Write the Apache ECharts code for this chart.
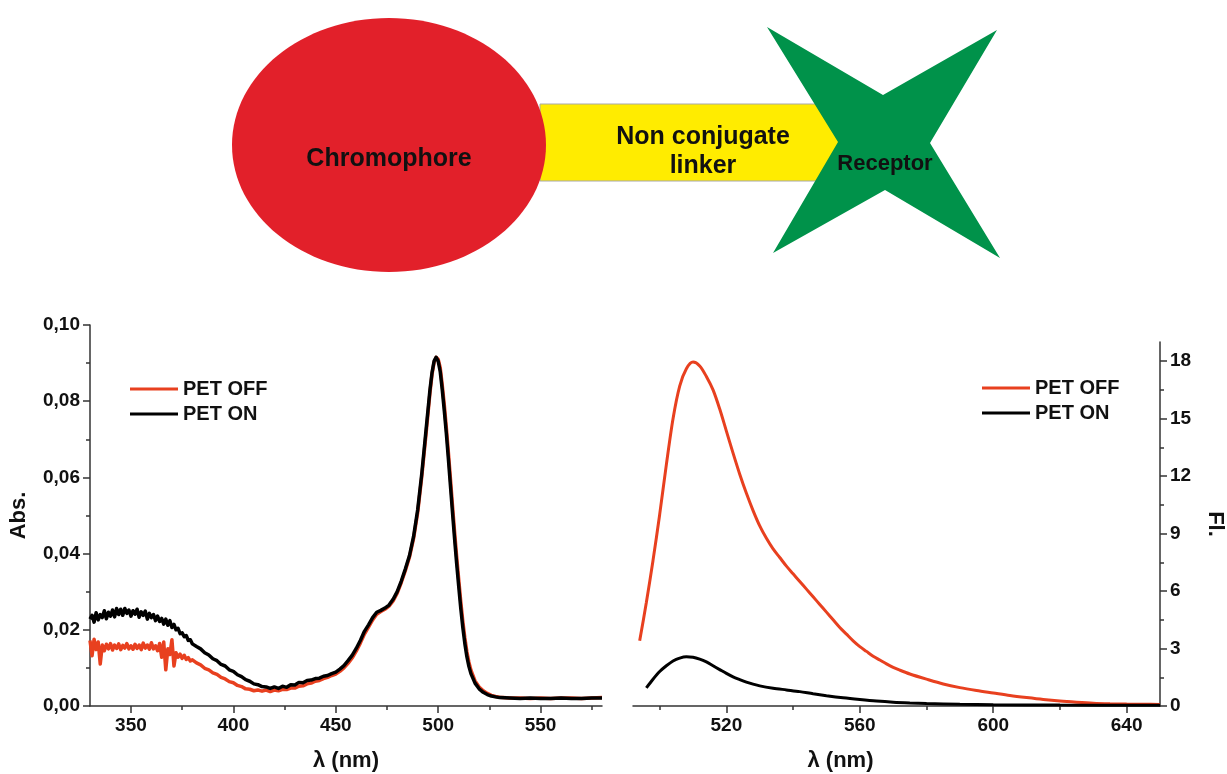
<!DOCTYPE html>
<html>
<head>
<meta charset="utf-8">
<script src="https://cdn.jsdelivr.net/npm/echarts@6/dist/echarts.min.js"></script>
<style>
  html, body { margin: 0; padding: 0; background: #ffffff; }
  #chart { width: 1227px; height: 774px; }
</style>
</head>
<body>
<div id="chart"></div>
<script>
// ---------- Data ----------
const seriesNames = ['PET OFF', 'PET ON'];

// Absorption spectra [wavelength nm, absorbance]
const absPetOff = [[330,.0172],[331,.0132],[332,.0175],[333,.0148],[334,.0168],[335,.0110],[336,.0160],[337,.0145],[338,.0162],[339,.0150],[340,.0164],[341,.0147],[342,.0160],[343,.0151],[344,.0163],[345,.0148],[346,.0159],[347,.0152],[348,.0164],[349,.0150],[350,.0158],[351,.0149],[352,.0162],[353,.0151],[354,.0160],[355,.0148],[356,.0165],[357,.0152],[358,.0160],[359,.0149],[360,.0166],[361,.0150],[362,.0158],[363,.0145],[364,.0164],[365,.0128],[366,.0168],[367,.0095],[368,.0150],[369,.0135],[370,.0174],[371,.0105],[372,.0140],[373,.0128],[374,.0136],[375,.0125],[376,.0133],[377,.0122],[378,.0127],[379,.0118],[380,.0121],[382,.0113],[384,.0108],[386,.0099],[388,.0095],[390,.0087],[392,.0083],[394,.0075],[396,.0071],[398,.0064],[400,.0061],[402,.0054],[404,.0051],[406,.0045],[408,.0044],[410,.0040],[412,.0042],[414,.0039],[416,.0042],[418,.0038],[420,.0042],[422,.0040],[424,.0044],[426,.0043],[428,.0047],[430,.0047],[432,.0052],[434,.0053],[436,.0058],[438,.0060],[440,.0065],[442,.0067],[444,.0072],[446,.0075],[448,.0080],[450,.0084],[452,.0091],[454,.0100],[456,.0112],[458,.0126],[460,.0144],[462,.0165],[464,.0189],[466,.0207],[468,.0226],[470,.0241],[472,.0248],[474,.0254],[476,.0262],[478,.0276],[480,.0296],[482,.0324],[484,.0356],[486,.0391],[488,.0440],[490,.0508],[492,.0602],[494,.0710],[496,.0822],[497,.0870],[498,.0902],[499,.0915],[500,.0910],[501,.0888],[502,.0842],[503,.0790],[504,.0730],[505,.0665],[506,.0596],[507,.0526],[508,.0458],[509,.0394],[510,.0334],[511,.0276],[512,.0224],[513,.0180],[514,.0143],[515,.0115],[516,.0094],[518,.0066],[520,.0050],[522,.0040],[524,.0033],[526,.0028],[528,.0025],[530,.0023],[535,.0021],[540,.0021],[545,.0020],[550,.0021],[555,.0020],[560,.0021],[565,.0021],[570,.0020],[575,.0021],[580,.0022]];

const absPetOn = [[330,.0228],[331,.0238],[332,.0220],[333,.0245],[334,.0226],[335,.0240],[336,.0232],[337,.0250],[338,.0229],[339,.0246],[340,.0236],[341,.0252],[342,.0234],[343,.0256],[344,.0240],[345,.0254],[346,.0238],[347,.0256],[348,.0243],[349,.0252],[350,.0236],[351,.0250],[352,.0241],[353,.0254],[354,.0233],[355,.0247],[356,.0238],[357,.0249],[358,.0228],[359,.0243],[360,.0232],[361,.0240],[362,.0224],[363,.0236],[364,.0222],[365,.0230],[366,.0215],[367,.0228],[368,.0212],[369,.0224],[370,.0206],[371,.0214],[372,.0200],[373,.0204],[374,.0190],[375,.0192],[376,.0182],[377,.0185],[378,.0172],[379,.0174],[380,.0163],[382,.0156],[384,.0150],[386,.0140],[388,.0134],[390,.0124],[392,.0119],[394,.0109],[396,.0105],[398,.0095],[400,.0091],[402,.0082],[404,.0077],[406,.0069],[408,.0065],[410,.0058],[412,.0056],[414,.0051],[416,.0050],[418,.0046],[420,.0050],[422,.0046],[424,.0052],[426,.0049],[428,.0056],[430,.0055],[432,.0062],[434,.0061],[436,.0067],[438,.0068],[440,.0072],[442,.0073],[444,.0078],[446,.0080],[448,.0085],[450,.0089],[452,.0097],[454,.0106],[456,.0119],[458,.0133],[460,.0151],[462,.0172],[464,.0196],[466,.0213],[468,.0232],[470,.0246],[472,.0251],[474,.0257],[476,.0265],[478,.0280],[480,.0300],[482,.0328],[484,.0360],[486,.0395],[488,.0445],[490,.0515],[492,.0610],[494,.0720],[496,.0830],[497,.0875],[498,.0905],[499,.0915],[500,.0905],[501,.0878],[502,.0830],[503,.0775],[504,.0715],[505,.0648],[506,.0578],[507,.0508],[508,.0440],[509,.0376],[510,.0316],[511,.0258],[512,.0208],[513,.0165],[514,.0130],[515,.0104],[516,.0085],[518,.0060],[520,.0045],[522,.0036],[524,.0030],[526,.0026],[528,.0024],[530,.0022],[535,.0021],[540,.0020],[545,.0021],[550,.0020],[555,.0020],[560,.0021],[565,.0020],[570,.0020],[575,.0021],[580,.0021]];

// Fluorescence spectra [wavelength nm, intensity]
const flPetOff = [[494,3.4],[496,5.4],[498,7.6],[500,10.0],[502,12.6],[504,15.0],[506,16.7],[508,17.6],[510,17.95],[512,17.75],[514,17.2],[516,16.5],[518,15.5],[520,14.35],[522,13.2],[524,12.1],[526,11.1],[528,10.2],[530,9.4],[532,8.75],[534,8.2],[536,7.75],[538,7.3],[540,6.9],[542,6.5],[544,6.1],[546,5.7],[548,5.3],[550,4.9],[552,4.5],[554,4.1],[556,3.75],[558,3.4],[560,3.1],[562,2.85],[564,2.6],[566,2.4],[568,2.2],[570,2.02],[572,1.87],[575,1.67],[580,1.4],[585,1.15],[590,0.96],[595,0.81],[600,0.68],[605,0.55],[610,0.44],[615,0.34],[620,0.26],[625,0.2],[630,0.15],[635,0.12],[640,0.1],[645,0.09],[650,0.08]];

const flPetOn = [[496,0.95],[498,1.4],[500,1.8],[502,2.1],[504,2.35],[506,2.5],[508,2.57],[510,2.55],[512,2.45],[514,2.3],[516,2.1],[518,1.9],[520,1.7],[522,1.52],[524,1.38],[526,1.25],[528,1.14],[530,1.05],[534,0.93],[538,0.84],[542,0.75],[546,0.64],[550,0.54],[555,0.43],[560,0.34],[565,0.26],[570,0.2],[575,0.16],[580,0.13],[590,0.09],[600,0.07],[620,0.05],[650,0.04]];

// Tick values
const absXMajor = [350, 400, 450, 500, 550];
const absXMinor = [375, 425, 475, 525, 575];
const absYMajor = [0, 0.02, 0.04, 0.06, 0.08, 0.1];
const absYMinor = [0.01, 0.03, 0.05, 0.07, 0.09];
const flXMajor = [520, 560, 600, 640];
const flXMinor = [500, 540, 580, 620];
const flYMajor = [0, 3, 6, 9, 12, 15, 18];
const flYMinor = [1.5, 4.5, 7.5, 10.5, 13.5, 16.5];

// Diagram labels
const diagramLabels = ['Chromophore', 'Non conjugate\nlinker', 'Receptor'];

// ---------- Styles ----------
const RED = '#E8401F';
const BLACK = '#000000';
const AXIS = '#333333';
const FONT = '"Liberation Sans", Arial, Helvetica, sans-serif';

function majorX(gridIndex, min, max, ticks, name, namePad) {
  return {
    type: 'value', gridIndex, min, max, position: 'bottom',
    axisLine: { show: true, onZero: false, lineStyle: { color: AXIS, width: 1.5 } },
    axisTick: { show: true, customValues: ticks, length: 7, lineStyle: { color: AXIS, width: 1.5 } },
    axisLabel: { show: true, customValues: ticks, margin: 10, color: '#111', fontFamily: FONT, fontWeight: 'bold', fontSize: 19 },
    splitLine: { show: false },
    name, nameLocation: 'middle', nameGap: 44,
    nameTextStyle: { color: '#111', fontFamily: FONT, fontWeight: 'bold', fontSize: 22, padding: namePad }
  };
}
function minorX(gridIndex, min, max, ticks) {
  return {
    type: 'value', gridIndex, min, max, position: 'bottom',
    axisLine: { show: false, onZero: false },
    axisTick: { show: true, customValues: ticks, length: 4, lineStyle: { color: AXIS, width: 1.5 } },
    axisLabel: { show: false }, splitLine: { show: false }
  };
}

const option = {
  backgroundColor: '#ffffff',
  animation: false,
  grid: [
    { left: 90, top: 325, width: 512, height: 381 },
    { left: 633, top: 342, width: 527, height: 364 }
  ],
  legend: [
    {
      data: seriesNames, orient: 'vertical', left: 125, top: 374,
      icon: 'rect', itemWidth: 48, itemHeight: 3, itemGap: 5,
      textStyle: { color: '#111', fontFamily: FONT, fontWeight: 'bold', fontSize: 20 }
    },
    {
      data: seriesNames, orient: 'vertical', left: 977, top: 373,
      icon: 'rect', itemWidth: 48, itemHeight: 3, itemGap: 5,
      textStyle: { color: '#111', fontFamily: FONT, fontWeight: 'bold', fontSize: 20 }
    }
  ],
  xAxis: [
    majorX(0, 330, 580, absXMajor, '\u03bb (nm)', [0, 0, 0, 0]),
    minorX(0, 330, 580, absXMinor),
    majorX(1, 492, 650, flXMajor, '\u03bb (nm)', [0, 112, 0, 0]),
    minorX(1, 492, 650, flXMinor)
  ],
  yAxis: [
    {
      type: 'value', gridIndex: 0, min: 0, max: 0.1, position: 'left',
      axisLine: { show: true, onZero: false, lineStyle: { color: AXIS, width: 1.5 } },
      axisTick: { show: true, customValues: absYMajor, length: 7, lineStyle: { color: AXIS, width: 1.5 } },
      axisLabel: {
        show: true, customValues: absYMajor, margin: 10, color: '#111',
        fontFamily: FONT, fontWeight: 'bold', fontSize: 19,
        formatter: v => v.toFixed(2).replace('.', ',')
      },
      splitLine: { show: false },
      name: 'Abs.', nameLocation: 'middle', nameGap: 60, nameRotate: 90,
      nameTextStyle: { color: '#111', fontFamily: FONT, fontWeight: 'bold', fontSize: 22 }
    },
    {
      type: 'value', gridIndex: 0, min: 0, max: 0.1, position: 'left',
      axisLine: { show: false, onZero: false },
      axisTick: { show: true, customValues: absYMinor, length: 4, lineStyle: { color: AXIS, width: 1.5 } },
      axisLabel: { show: false }, splitLine: { show: false }
    },
    {
      type: 'value', gridIndex: 1, min: 0, max: 19, position: 'right',
      axisLine: { show: true, onZero: false, lineStyle: { color: AXIS, width: 1.5 } },
      axisTick: { show: true, customValues: flYMajor, length: 7, lineStyle: { color: AXIS, width: 1.5 } },
      axisLabel: { show: true, customValues: flYMajor, margin: 10, color: '#111', fontFamily: FONT, fontWeight: 'bold', fontSize: 19 },
      splitLine: { show: false },
      name: 'Fl.', nameLocation: 'middle', nameGap: 44, nameRotate: -90,
      nameTextStyle: { color: '#111', fontFamily: FONT, fontWeight: 'bold', fontSize: 22 }
    },
    {
      type: 'value', gridIndex: 1, min: 0, max: 19, position: 'right',
      axisLine: { show: false, onZero: false },
      axisTick: { show: true, customValues: flYMinor, length: 4, lineStyle: { color: AXIS, width: 1.5 } },
      axisLabel: { show: false }, splitLine: { show: false }
    }
  ],
  series: [
    { name: 'PET OFF', type: 'line', xAxisIndex: 0, yAxisIndex: 0, data: absPetOff, showSymbol: false, symbol: 'none',
      lineStyle: { color: RED, width: 3.5, join: 'round' }, itemStyle: { color: RED } },
    { name: 'PET ON', type: 'line', xAxisIndex: 0, yAxisIndex: 0, data: absPetOn, showSymbol: false, symbol: 'none',
      lineStyle: { color: BLACK, width: 3.5, join: 'round' }, itemStyle: { color: BLACK } },
    { name: 'PET OFF', type: 'line', xAxisIndex: 2, yAxisIndex: 2, data: flPetOff, showSymbol: false, symbol: 'none', smooth: 0.3,
      lineStyle: { color: RED, width: 3 }, itemStyle: { color: RED } },
    { name: 'PET ON', type: 'line', xAxisIndex: 2, yAxisIndex: 2, data: flPetOn, showSymbol: false, symbol: 'none', smooth: 0.3,
      lineStyle: { color: BLACK, width: 3 }, itemStyle: { color: BLACK } }
  ],
  graphic: [
    // linker band
    { type: 'rect', shape: { x: 540, y: 104, width: 320, height: 77 },
      style: { fill: '#FFEC00', stroke: '#A8A8A8', lineWidth: 1 }, z: 1 },
    // chromophore
    { type: 'ellipse', shape: { cx: 389, cy: 145, rx: 157, ry: 127 },
      style: { fill: '#E2202A' }, z: 2 },
    // receptor star
    { type: 'polygon',
      shape: { points: [[767,27],[883,95],[997,30],[930,143],[1000,258],[885,190],[773,253],[838,142]] },
      style: { fill: '#00924A' }, z: 3 },
    { type: 'text', x: 389, y: 159, z: 4,
      style: { text: diagramLabels[0], fill: '#111', font: 'bold 25px ' + FONT, align: 'center', verticalAlign: 'middle' } },
    { type: 'text', x: 703, y: 152, z: 4,
      style: { text: diagramLabels[1], fill: '#111', font: 'bold 25px ' + FONT, align: 'center', verticalAlign: 'middle', lineHeight: 29 } },
    { type: 'text', x: 885, y: 164, z: 4,
      style: { text: diagramLabels[2], fill: '#111', font: 'bold 22px ' + FONT, align: 'center', verticalAlign: 'middle' } }
  ]
};

const chart = echarts.init(document.getElementById('chart'), null, { renderer: 'canvas' });
chart.setOption(option);
</script>
</body>
</html>
